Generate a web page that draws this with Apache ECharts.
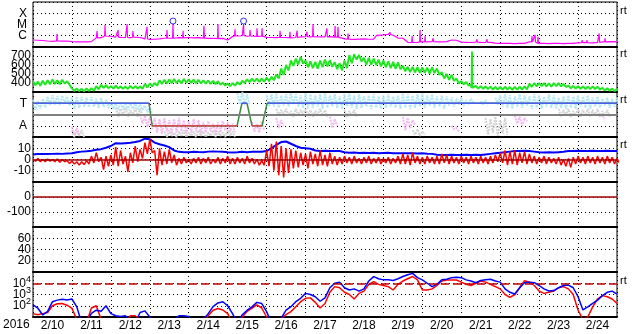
<!DOCTYPE html>
<html>
<head>
<meta charset="utf-8">
<script src="https://cdn.jsdelivr.net/npm/echarts/dist/echarts.min.js"></script>
<style>html,body{margin:0;padding:0;background:#fff;}#c{width:633px;height:334px;}</style>
</head>
<body>
<div id="c"></div>
<script>
// ---------------- DATA ----------------
const STEP = 3; // hours between samples, starting 2016-02-10 00:00
const dayLabels = ['2/10','2/11','2/12','2/13','2/14','2/15','2/16','2/17','2/18','2/19','2/20','2/21','2/22','2/23','2/24'];
const yearLabel = '2016';

// GOES X-ray flux (W/m^2), background
const xrayBase = [4.2e-7,4.0e-7,3.8e-7,3.4e-7,3.2e-7,3.5e-7,3.3e-7,3.4e-7,3.0e-7,2.9e-7,
2.8e-7,2.9e-7,3.0e-7,6.5e-7,6.7e-7,9.5e-7,9.0e-7,7.5e-7,7.0e-7,7.2e-7,
6.8e-7,7.4e-7,7.0e-7,5.2e-7,4.8e-7,5.0e-7,5.3e-7,6.0e-7,6.2e-7,6.0e-7,
6.8e-7,6.5e-7,7.0e-7,6.6e-7,6.8e-7,6.2e-7,5.8e-7,6.0e-7,5.6e-7,5.8e-7,
4.2e-7,8.5e-7,9.5e-7,1.0e-6,9.0e-7,9.5e-7,8.8e-7,9.2e-7,7.2e-7,7.0e-7,
6.8e-7,7.2e-7,7.0e-7,6.6e-7,7.0e-7,8.0e-7,8.2e-7,7.8e-7,8.5e-7,8.0e-7,
7.8e-7,8.2e-7,7.5e-7,7.5e-7,5.2e-7,5.0e-7,4.8e-7,5.0e-7,5.2e-7,4.9e-7,
5.0e-7,1.1e-6,1.2e-6,1.3e-6,1.1e-6,6.2e-7,6.0e-7,2.6e-7,2.5e-7,2.6e-7,
2.9e-7,2.8e-7,3.0e-7,2.9e-7,2.8e-7,3.0e-7,4.2e-7,4.0e-7,2.7e-7,2.6e-7,
2.5e-7,2.7e-7,2.6e-7,2.5e-7,2.6e-7,2.2e-7,2.1e-7,2.1e-7,2.1e-7,2.0e-7,
2.1e-7,2.1e-7,2.9e-7,2.8e-7,2.1e-7,2.1e-7,2.0e-7,2.1e-7,2.1e-7,2.0e-7,
2.1e-7,2.1e-7,2.3e-7,2.4e-7,2.4e-7,2.3e-7,2.6e-7,2.9e-7,2.8e-7,3.0e-7,2.9e-7];
// short flare peaks [hour, flux]
const xrayFlares = [[14.8,1.4e-6],[39.5,2.6e-6],[44.4,9e-6],[52.4,3.2e-6],[58,1.1e-5],[61.6,2.6e-6],
[70.3,6.3e-6],[82.6,3.2e-6],[86.3,1.1e-5],[92.5,2.8e-6],[105.4,7.7e-6],[114,1.1e-5],[124.5,3.7e-6],
[129.8,1.1e-5],[133.8,3.2e-6],[138.1,4.6e-6],[141.2,4.6e-6],[152.3,2.8e-6],[158.4,2.3e-6],[162.8,2.8e-6],
[168.9,2.3e-6],[172.6,1.1e-5],[181.2,4.6e-6],[186.2,7.4e-6],[188,6.3e-6],[194.2,1.6e-6],[212.1,1.6e-6],
[220.1,2.0e-6],[233.7,9.5e-7],[238.6,3.2e-6],[241.7,9.5e-7],[246.6,6e-7],[273.7,4.8e-7],[279.9,4.8e-7],
[307.6,9.5e-7],[309.5,1.2e-6],[311.3,8e-7],[338.5,4.2e-7],[341.5,4.2e-7],[349,1.6e-6],[352.6,6e-7],[357,4.2e-7]];
const flareMarks = [[86.3,1.1e-5],[129.8,1.1e-5]];

// Solar wind speed (km/s): upper and lower edge of the noisy trace
const speedHi = [420,415,425,430,440,430,435,420,340,338,
335,340,342,365,380,375,365,370,362,360,
368,365,362,390,395,400,430,435,440,445,
435,445,440,438,435,430,428,425,420,405,
395,400,410,425,440,448,450,448,460,470,
495,560,600,650,670,690,650,640,635,650,
660,655,630,620,650,710,720,710,680,680,
670,660,650,640,635,630,590,580,578,575,
572,570,575,560,520,500,490,450,420,410,
380,368,365,362,358,355,355,358,355,358,
358,362,390,398,400,398,395,400,398,390,
372,368,365,362,360,362,358,345,342,338,332];
const speedLo = [375,370,380,385,390,385,395,380,312,310,
308,312,315,330,345,342,338,340,336,334,
340,338,336,350,362,370,390,395,398,400,
395,405,400,398,395,392,390,388,380,372,
365,370,382,400,410,415,412,415,420,430,
450,490,540,590,605,615,575,565,560,575,
585,580,555,540,565,620,660,640,605,605,
600,585,575,565,560,555,530,520,518,512,
512,505,510,490,450,435,425,395,385,372,
345,338,336,334,328,326,326,328,324,326,
328,330,358,362,364,362,360,364,362,356,
342,338,336,334,332,334,328,318,315,310,306];
const speedSpikes = [[270.6,750]];

// IMF sector: +1 = Toward, -1 = Away
const sectorHours = [0,71.5,73.5,125.8,128.8,131.9,135,141.2,144.3,360];
const sectorState = [1,1,-1,-1,1,1,-1,-1,1,1];
const N = null;
const cyanHi = [1.3,1.2,1.4,1.6,1.7,1.65,1.7,1.6,1.5,1.6,1.55,1.5,1.55,1.4,1.5,1.3,1.1,1.0,1.1,1.05,
1.0,1.1,0.9,0.8,0.6,N,N,N,N,N,N,N,N,N,N,N,N,N,N,N,
N,N,1.9,2.0,1.8,N,N,N,1.7,1.8,1.9,1.7,1.8,1.9,1.8,1.7,1.9,1.8,1.7,1.8,
1.9,1.7,1.8,1.6,1.8,1.9,1.7,1.8,1.6,1.7,1.8,1.6,1.7,1.8,1.6,1.7,1.9,1.8,1.7,1.8,
1.9,1.7,1.8,1.6,1.7,1.6,1.5,1.4,1.5,1.3,1.4,N,1.2,1.3,N,1.5,1.7,1.8,1.7,1.6,
1.8,1.7,1.6,1.8,1.7,1.6,1.8,1.7,1.5,1.6,1.7,1.6,1.7,1.6,1.7,1.5,1.6,1.4,1.5,1.4,1.5];
const cyanLo = [0.4,0.5,0.6,0.8,0.9,0.85,1.0,0.8,0.5,0.6,0.7,0.66,0.7,0.6,0.7,0.6,0.5,0.4,0.45,0.4,
0.5,0.4,0.4,0.2,0.0,N,N,N,N,N,N,N,N,N,N,N,N,N,N,N,
N,N,0.9,0.85,0.9,N,N,N,0.7,0.7,0.6,0.8,0.7,0.9,0.7,0.6,0.5,0.6,0.7,0.5,
0.6,0.7,0.6,0.5,0.7,0.6,0.5,0.6,0.7,0.5,0.6,0.5,0.6,0.7,0.6,0.5,0.6,0.5,0.6,0.7,
0.6,0.8,0.6,0.7,0.5,0.8,0.7,0.9,0.8,0.9,1.0,N,0.9,0.8,N,0.9,0.7,0.6,0.5,0.7,
0.6,0.8,0.5,0.6,0.5,0.7,0.6,0.5,0.6,0.5,0.6,0.5,0.7,0.6,0.5,0.7,0.6,0.8,0.6,0.7,0.6];
const pinkHi = [N,N,N,N,N,N,N,N,-1.1,-1.2,N,N,N,N,N,N,N,N,N,N,
N,N,0.0,-0.1,-0.2,-0.3,-0.4,-0.3,-0.5,-0.4,-0.3,-0.5,-0.6,-0.4,-0.5,-0.7,-0.6,-0.8,-0.7,-0.6,
-0.7,-0.8,N,N,N,-0.7,-0.8,-0.6,N,N,-0.3,-0.5,N,N,N,N,N,N,N,N,
N,-0.2,-0.4,N,N,N,N,N,N,N,N,N,N,N,N,N,-0.2,-0.3,-0.5,N,
N,N,N,N,N,N,-1.0,-1.2,N,N,N,N,N,N,N,N,N,N,N,-0.1,
-0.2,-0.3,N,N,N,N,N,N,N,N,N,N,N,N,N,N,N,-0.1,N,N,N];
const pinkLo = [N,N,N,N,N,N,N,N,-1.8,-1.8,N,N,N,N,N,N,N,N,N,N,
N,N,-0.8,-1.1,-1.3,-1.6,-1.7,-1.5,-1.7,-1.6,-1.5,-1.7,-1.6,-1.5,-1.7,-1.6,-1.5,-1.7,-1.6,-1.4,
-1.5,-1.6,N,N,N,-1.5,-1.6,-1.4,N,N,-1.2,-1.0,N,N,N,N,N,N,N,N,
N,-1.2,-1.0,N,N,N,N,N,N,N,N,N,N,N,N,N,-1.4,-1.2,-0.9,N,
N,N,N,N,N,N,-1.3,-1.5,N,N,N,N,N,N,N,N,N,N,N,-0.8,
-1.0,-0.6,N,N,N,N,N,N,N,N,N,N,N,N,N,N,N,-0.4,N,N,N];
const grayHi = [N,N,N,N,N,N,N,N,-1.4,-1.5,-1.4,N,N,N,N,N,N,0.6,0.5,0.6,
0.4,0.6,0.5,N,N,N,N,-1.5,-1.4,-1.6,-1.5,-1.4,-1.6,-1.5,-1.4,-1.5,-1.6,-1.4,-1.5,-1.6,
-1.4,-1.5,N,N,N,N,N,N,N,N,0.5,0.4,0.5,0.3,0.5,0.4,0.5,0.4,0.3,0.5,
0.4,N,N,N,0.4,0.3,0.4,N,N,N,N,N,N,N,N,N,N,N,-1.4,-1.3,
-1.5,N,N,N,N,N,N,N,N,N,N,N,N,-0.3,-0.4,-0.2,-0.5,-0.3,N,N,
N,N,N,N,N,N,N,N,0.5,0.4,0.5,0.3,0.5,0.4,0.5,0.4,0.5,0.3,0.4,N,N];
const grayLo = [N,N,N,N,N,N,N,N,-2.0,-1.9,-2.0,N,N,N,N,N,N,-0.2,-0.1,-0.2,
-0.1,-0.2,-0.1,N,N,N,N,-2.0,-1.9,-2.0,-1.9,-2.0,-1.9,-2.0,-1.9,-2.0,-1.9,-2.0,-1.9,-2.0,
-1.9,-2.0,N,N,N,N,N,N,N,N,-0.1,0.0,-0.1,-0.2,-0.1,0.0,-0.1,-0.2,0.0,-0.1,
-0.2,N,N,N,-0.2,-0.1,-0.2,N,N,N,N,N,N,N,N,N,N,N,-1.8,-1.9,
-1.8,N,N,N,N,N,N,N,N,N,N,N,N,-1.8,-1.6,-1.9,-1.7,-1.8,N,N,
N,N,N,N,N,N,N,N,-0.2,-0.1,-0.2,-0.1,-0.2,-0.1,-0.2,-0.1,-0.2,-0.1,-0.2,N,N];

// IMF |B| (nT) and Bz range (nT)
const bt = [4.5,4.8,5,4.8,5,5.2,5,5.3,5.5,6.5,7,7.3,7.8,8.6,9.2,10.5,12,14.5,14.2,14.5,
14.8,15.5,16.5,18.5,18,15,13.5,12.5,11,8,6.8,6.5,6.5,6.8,6.6,6.5,7,7.2,7,6.8,
6.5,6.3,6.5,6.8,6.5,6.8,7,6.8,7.5,10,13,15.5,16,14,12,10.5,10,9.5,8,7.5,
7.8,7.5,7.6,7.5,6.5,6,6.2,5.8,6,5.8,6,5.5,5.8,6,5.6,5.5,5.5,5.5,5.5,5.3,
5.5,5.2,5,4.2,4,4,4.2,4,4,4.2,4,4.2,4,4.5,5,5.5,6,6.5,7,7.5,
7.5,7.8,7.5,7,6.5,6.3,6.5,6.2,6.5,6.8,7.5,7.5,7.8,7.5,7.5,7.8,7.5,7.5,7.8,7.5,7.5];
const bzHi = [0.5,1,0,0.5,0,0.5,0,-1,-1.5,-2,-2,-1,3,6,2,3,4,11,8,3,
6,12,9,15,18,8,10,7,9,4,1,2,0,1,2,1,2,0,2,1,
3,1,2,1,3,1,0,-1,8,14,16,12,10,9,8,6,5,7,5,8,
4,6,3,2,3,2,3,1,2,3,1,2,1,2,1,3,5,4,6,3,
2,3,2,3,5,4,3,2,3,2,3,2,3,2,3,4,6,8,7,8,
6,7,5,3,2,3,2,1,2,0,1,2,3,2,3,2,3,2,3,2,1];
const bzLo = [-1.5,-2,-2,-1.5,-2,-2.5,-2,-3.5,-4,-5,-4.5,-4,-3,-2,-9,-6,-5,-6,-4,-11,
-3,-2,1,5,6,-14,-5,-4,-3,-5,-4,-3,-4,-3,-4,-3,-4,-3,-4,-3,
-4,-4,-3,-4,-3,-4,-5,-5,-6,-10,-14,-16,-12,-8,-7,-5,-8,-4,-6,-5,
-6,-4,-5,-4,-3,-4,-3,-4,-3,-4,-3,-4,-3,-4,-3,-4,-4,-5,-3,-4,
-4,-3,-4,-4,-3,-4,-3,-4,-3,-4,-3,-4,-3,-4,-3,-2,-3,-5,-4,-5,
-3,-4,-3,-4,-3,-4,-3,-4,-5,-6,-7,-4,-3,-4,-3,-4,-3,-4,-3,-4,-3];

// Particle flux (blue / red traces)
const fluxBlue = [117,60,15,32,229,316,372,331,398,79,3,3,21,40,32,100,20,13,11,13,
3,3,25,35,10,3,3,3,3,6,13,13,11,3,3,6,20,83,178,229,
100,20,3,16,40,79,200,158,30,3,3,8,40,83,229,457,1260,1000,631,251,
501,3980,10000,12600,3980,2510,3160,2000,3160,15800,38900,25100,20000,20000,17800,25100,39800,56200,75900,31600,
20000,10000,5010,7940,20000,22400,31600,33900,31600,20000,15800,11200,17800,20000,22400,15800,12600,3160,1580,1100,
3980,11200,12600,11200,6310,3160,2040,2240,3980,6310,6920,3980,631,42,79,166,316,794,1580,2000,1100];
const fluxRed = [20,16,20,25,100,151,158,112,59,6,3,3,63,100,6,3,3,3,3,3,
13,13,6,3,3,3,3,3,3,3,3,3,3,3,3,3,13,40,56,42,
20,3,3,10,32,63,117,63,10,3,3,8,16,30,83,229,457,501,200,63,
158,1580,5010,3980,1580,1000,398,1260,2000,7940,13800,7940,6310,5010,2510,7940,15800,25100,39800,20000,
2510,2510,3160,6310,15800,19500,19500,19500,12600,7940,6310,10000,15800,12600,7940,5010,3160,1000,562,1000,
3980,17000,12600,6310,2000,1260,1580,2000,3980,5010,3160,1000,40,6,10,79,398,794,631,398,158];

// ---------------- BUILD ----------------
const FONT = "'Liberation Sans', Arial, sans-serif";
const hr = i => i * STEP;
function addSpikes(pts, base, spikes) {
  spikes.forEach(([h, p]) => {
    const b = base[Math.min(base.length - 1, Math.round(h / STEP))];
    pts.push([h - 0.25, b], [h, p], [h + 0.25, b]);
  });
  pts.sort((a, b) => a[0] - b[0]);
  return pts;
}
function zig(hi, lo) {
  const out = [];
  hi.forEach((h, i) => {
    if (h == null) out.push([hr(i), null]);
    else { out.push([hr(i), h]); out.push([hr(i) + STEP / 2, lo[i]]); }
  });
  return out;
}
function series1(arr) { return arr.map((v, i) => [hr(i), v]); }
function sectorSeg(state) {
  const out = [];
  for (let i = 0; i < sectorHours.length - 1; i++) {
    if (sectorState[i] === state && sectorState[i + 1] === state) {
      out.push([sectorHours[i], state], [sectorHours[i + 1], state], [sectorHours[i + 1], null]);
    }
  }
  return out;
}

const grids = [], xAxes = [], yAxes = [];
for (let k = 0; k < 7; k++) {
  grids.push({left: 33, width: 584, top: 2 + 45 * k, height: 45, show: true,
    borderColor: '#000', borderWidth: 1, backgroundColor: 'transparent', containLabel: false, outerBoundsMode: 'none'});
}
for (let k = 0; k < 7; k++) {
  xAxes.push({type: 'value', gridIndex: k, min: 0, max: 360, show: false});
}
for (let k = 0; k < 7; k++) {
  xAxes.push({type: 'category', gridIndex: k, data: dayLabels, boundaryGap: true, position: 'bottom',
    axisLine: {show: true, lineStyle: {color: '#000', width: 2}},
    axisTick: {show: false},
    axisLabel: {show: k === 6, interval: 0, color: '#000', fontSize: 12, fontFamily: FONT, margin: 3},
    splitLine: {show: true, interval: 0, lineStyle: {color: '#000', type: [1, 3], width: 1}}});
}
const dotted = {show: true, lineStyle: {color: '#000', type: [1, 3], width: 1}};
function yBase(k, extra) {
  return Object.assign({gridIndex: k, axisLine: {show: false}, axisTick: {show: false}, splitLine: dotted}, extra);
}
const lab = (m, f, rich) => ({show: true, color: '#000', fontSize: 12, fontFamily: FONT, margin: m, formatter: f, rich: rich,
  showMinLabel: true, showMaxLabel: true});
const ex = v => Math.round(Math.log10(v));
yAxes.push(yBase(0, {type: 'log', logBase: 10, min: 1e-7, max: 1e-3, splitNumber: 4,
  axisLabel: lab(6, v => ({'-4': 'X', '-5': 'M', '-6': 'C'})[ex(v)] || '')}));
yAxes.push(yBase(1, {type: 'value', min: 300, max: 800, interval: 100,
  axisLabel: lab(2, v => (v >= 400 && v <= 700) ? String(v) : '')}));
yAxes.push(yBase(2, {type: 'value', min: -2, max: 2, interval: 1,
  axisLabel: lab(6, v => v === 1 ? 'T' : (v === -1 ? 'A' : ''))}));
yAxes.push(yBase(3, {type: 'value', min: -20, max: 20, interval: 10,
  axisLabel: lab(2, v => Math.abs(v) <= 10 ? String(v) : '')}));
yAxes.push(yBase(4, {type: 'value', min: -200, max: 100, interval: 100,
  axisLabel: lab(2, v => (v === 0 || v === -100) ? String(v) : '')}));
yAxes.push(yBase(5, {type: 'value', min: 0, max: 80, interval: 20,
  axisLabel: lab(2, v => (v >= 20 && v <= 60) ? String(v) : '')}));
yAxes.push(yBase(6, {type: 'log', logBase: 10, min: 10, max: 1e5, splitNumber: 4,
  axisLabel: lab(2, v => { const e = ex(v); return (e >= 2 && e <= 4) ? '{b|10}{s|' + e + '}' : ''; },
    {b: {fontSize: 12, fontFamily: FONT, color: '#000'}, s: {fontSize: 9, fontFamily: FONT, color: '#000', padding: [0, 0, 8, 0]}})}));

const ml = (y, color, type, width) => ({silent: true, symbol: 'none', label: {show: false},
  lineStyle: {color: color, type: type, width: width}, data: [{yAxis: y}]});
const L = (k, data, color, width, extra) => Object.assign({type: 'line', xAxisIndex: k, yAxisIndex: k, data: data,
  showSymbol: false, symbol: 'none', clip: true, lineStyle: {color: color, width: width}, itemStyle: {color: color}}, extra || {});
const speck = (color) => ({lineStyle: {color: color, width: 2, type: [2, 1]}});

const series = [
  L(0, addSpikes(series1(xrayBase), xrayBase, xrayFlares), '#ff00ff', 1.2),
  {type: 'scatter', xAxisIndex: 0, yAxisIndex: 0, data: flareMarks, symbol: 'circle', symbolSize: 6, symbolOffset: [0, -3],
    itemStyle: {color: 'rgba(0,0,0,0)', borderColor: '#0000ff', borderWidth: 1}},
  L(1, addSpikes(zig(speedHi, speedLo), speedLo, speedSpikes), '#22e622', 2),
  L(2, zig(grayHi, grayLo), '#d2d2d2', 2, Object.assign(speck('#d2d2d2'), {markLine: ml(0, '#808080', 'solid', 2)})),
  L(2, zig(pinkHi, pinkLo), '#f4b8f0', 2, speck('#f4b8f0')),
  L(2, zig(cyanHi, cyanLo), '#b0e6f6', 2, speck('#b0e6f6')),
  L(2, sectorHours.map((h, i) => [h, sectorState[i]]), '#3c8c3c', 1.5),
  L(2, sectorSeg(1), '#4a5ef0', 1.5),
  L(2, sectorSeg(-1), '#d84848', 1.5),
  L(3, series1(bt), '#0000ff', 2, {markLine: ml(0, '#a00000', 'solid', 1.5)}),
  L(3, zig(bzHi, bzLo), '#ff0000', 1.5),
  L(4, [], '#a00000', 1, {markLine: ml(0, '#a00000', 'solid', 1.5)}),
  L(6, series1(fluxRed), '#ff0000', 1.5, {markLine: ml(1e4, '#c00000', [8, 4], 1.5)}),
  L(6, series1(fluxBlue), '#0000ff', 1.5)
];

const rtLevels = [11, 54, 100, 145, 281];
const graphics = [{type: 'text', left: 3, top: 319, style: {text: yearLabel, fill: '#000', font: '12px ' + FONT}}];
rtLevels.forEach(y => graphics.push({type: 'text', left: 620, top: y - 6, style: {text: 'rt', fill: '#000', font: '11px ' + FONT}}));

const chart = echarts.init(document.getElementById('c'), null, {renderer: 'canvas'});
chart.setOption({
  animation: false,
  backgroundColor: '#fff',
  grid: grids, xAxis: xAxes, yAxis: yAxes, series: series, graphic: graphics
});
</script>
</body>
</html>
